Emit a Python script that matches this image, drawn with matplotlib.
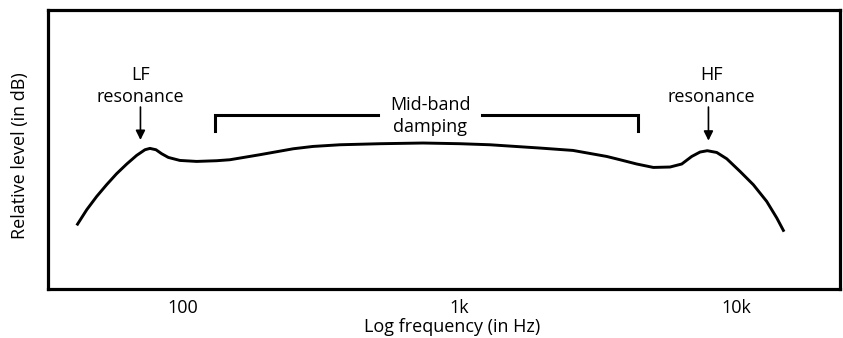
import matplotlib
matplotlib.use("Agg")
import matplotlib.pyplot as plt

plt.rcParams['font.family'] = ['Open Sans', 'DejaVu Sans']

# response curve (Hz, relative level)
freq_hz = [41.5, 45.1, 49.0, 53.2, 57.8, 62.9, 68.3, 73.2, 76.3, 80.2,
           84.1, 88.9, 97.9, 112.5, 132.9, 148.4, 190.5, 251.5, 296, 370.7,
           517, 739.6, 1006, 1291, 1958, 2576, 3411, 3809, 4378, 5026,
           5775, 6366, 6918, 7413, 7876, 8518, 9257, 10340, 11550, 12910,
           14040, 14910]
level_db = [-11.81, -9.57, -7.67, -6.0, -4.43, -3.04, -1.81, -1.0, -0.81, -1.0,
            -1.57, -2.1, -2.53, -2.67, -2.57, -2.43, -1.71, -0.86, -0.53, -0.29,
            -0.14, -0.04, -0.14, -0.29, -0.76, -1.1, -1.96, -2.43, -3.04, -3.53,
            -3.47, -3.04, -1.96, -1.33, -1.14, -1.39, -2.29, -4.1, -6.0, -8.39,
            -10.76, -12.71]

tick_freqs = [100, 1000, 10000]
tick_labels = ["100", "1k", "10k"]

fs = 13

fig = plt.figure(figsize=(8.43, 3.38), dpi=100)
ax = fig.add_axes([0.0575, 0.145, 0.9384, 0.824])

ax.plot(freq_hz, level_db, color="black", lw=2.1,
        solid_capstyle="butt", solid_joinstyle="round")

ax.set_xscale("log")
ax.set_xlim(32.8, 23660)
ax.set_ylim(-20.9, 18.9)
ax.set_xticks(tick_freqs)
ax.set_xticklabels(tick_labels)
ax.minorticks_off()
ax.set_yticks([])
ax.tick_params(axis="x", length=0, pad=7, labelsize=fs)

for s in ax.spines.values():
    s.set_linewidth(2.3)

ax.set_xlabel("Log frequency (in Hz)", fontsize=fs)
ax.xaxis.set_label_coords(0.51, -0.105)
ax.set_ylabel("Relative level (in dB)", fontsize=fs)
ax.yaxis.set_label_coords(-0.025, 0.48)

# resonance labels with arrows
arrow = dict(arrowstyle="-|>", color="black", lw=1.2, mutation_scale=14,
             shrinkA=0, shrinkB=0)
ax.annotate("", xy=(70.5, 0.4), xytext=(70.5, 5.1), arrowprops=arrow)
ax.text(70.5, 5.3, "LF\nresonance", ha="center", va="bottom",
        fontsize=fs, linespacing=1.25)
ax.annotate("", xy=(7950, 0.3), xytext=(7950, 5.1), arrowprops=arrow)
ax.text(8150, 5.3, "HF\nresonance", ha="center", va="bottom",
        fontsize=fs, linespacing=1.25)

# mid-band bracket
ax.plot([131, 131, 508], [1.7, 4.0, 4.0], color="black", lw=2.2,
        solid_joinstyle="miter")
ax.plot([1208, 4425, 4425], [4.0, 4.0, 1.7], color="black", lw=2.2,
        solid_joinstyle="miter")
ax.text(785, 3.8, "Mid-band\ndamping", ha="center", va="center",
        fontsize=fs, linespacing=1.25)

fig.savefig("out.png", dpi=100)
